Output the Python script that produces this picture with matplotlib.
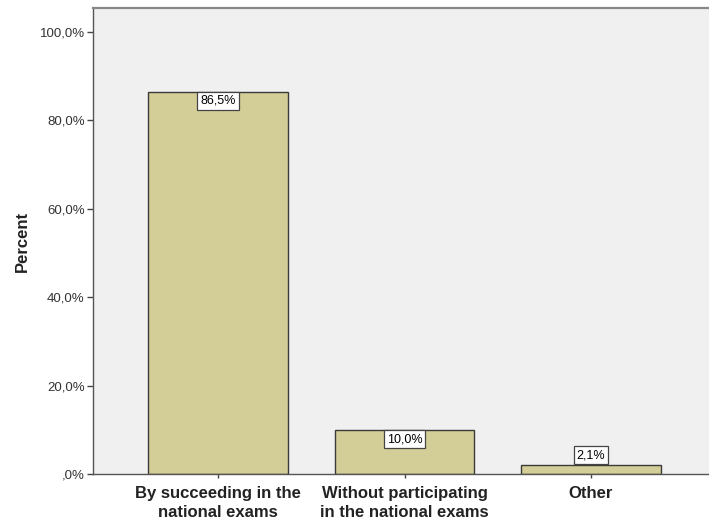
import matplotlib.pyplot as plt

categories = ["By succeeding in the\nnational exams",
              "Without participating\nin the national exams",
              "Other"]
percents = [86.5, 10.0, 2.1]
yticks = [0, 20, 40, 60, 80, 100]
ytick_labels = [",0%", "20,0%", "40,0%", "60,0%", "80,0%", "100,0%"]

plt.rcParams['font.family'] = ['Liberation Sans', 'DejaVu Sans']

fig = plt.figure(figsize=(7.09, 5.27), dpi=100)
ax = fig.add_axes([0.1312, 0.1006, 0.8787, 0.8843])
ax.set_facecolor('#f0f0f0')

x = list(range(len(categories)))
ax.bar(x, percents, width=0.75, color='#d3ce97', edgecolor='#3a3a3a', linewidth=1.0, zorder=2)

box = dict(boxstyle='square,pad=0.25', fc='white', ec='#444444', lw=0.9)
for xi, p in zip(x, percents):
    txt = f"{p:.1f}%".replace('.', ',')
    if p > 5:
        ax.annotate(txt, (xi, p), xytext=(0, -2.5), textcoords='offset points',
                    ha='center', va='top', fontsize=9, zorder=3, bbox=box)
    else:
        ax.annotate(txt, (xi, p), xytext=(0, 2.5), textcoords='offset points',
                    ha='center', va='bottom', fontsize=9, zorder=3, bbox=box)

ax.set_xlim(-0.67, 2.67)
ax.set_ylim(0, 105.4)
ax.set_xticks(x)
ax.set_xticklabels(categories, fontsize=12, fontweight='bold', color='#222222',
                   linespacing=1.3)
ax.set_yticks(yticks)
ax.set_yticklabels(ytick_labels, fontsize=9.5, color='#333333')
ax.tick_params(axis='y', length=4, width=1, color='#444444', pad=2)
ax.tick_params(axis='x', length=3, width=1, color='#444444', pad=6)
ax.set_ylabel("Percent", fontsize=12, fontweight='bold', color='#222222', labelpad=7)

for side in ['left', 'bottom', 'top', 'right']:
    ax.spines[side].set_color('#555555')
    ax.spines[side].set_linewidth(1.0)
ax.spines['top'].set_color('#888888')
ax.spines['top'].set_linewidth(1.6)

fig.savefig('out.png', dpi=100)
